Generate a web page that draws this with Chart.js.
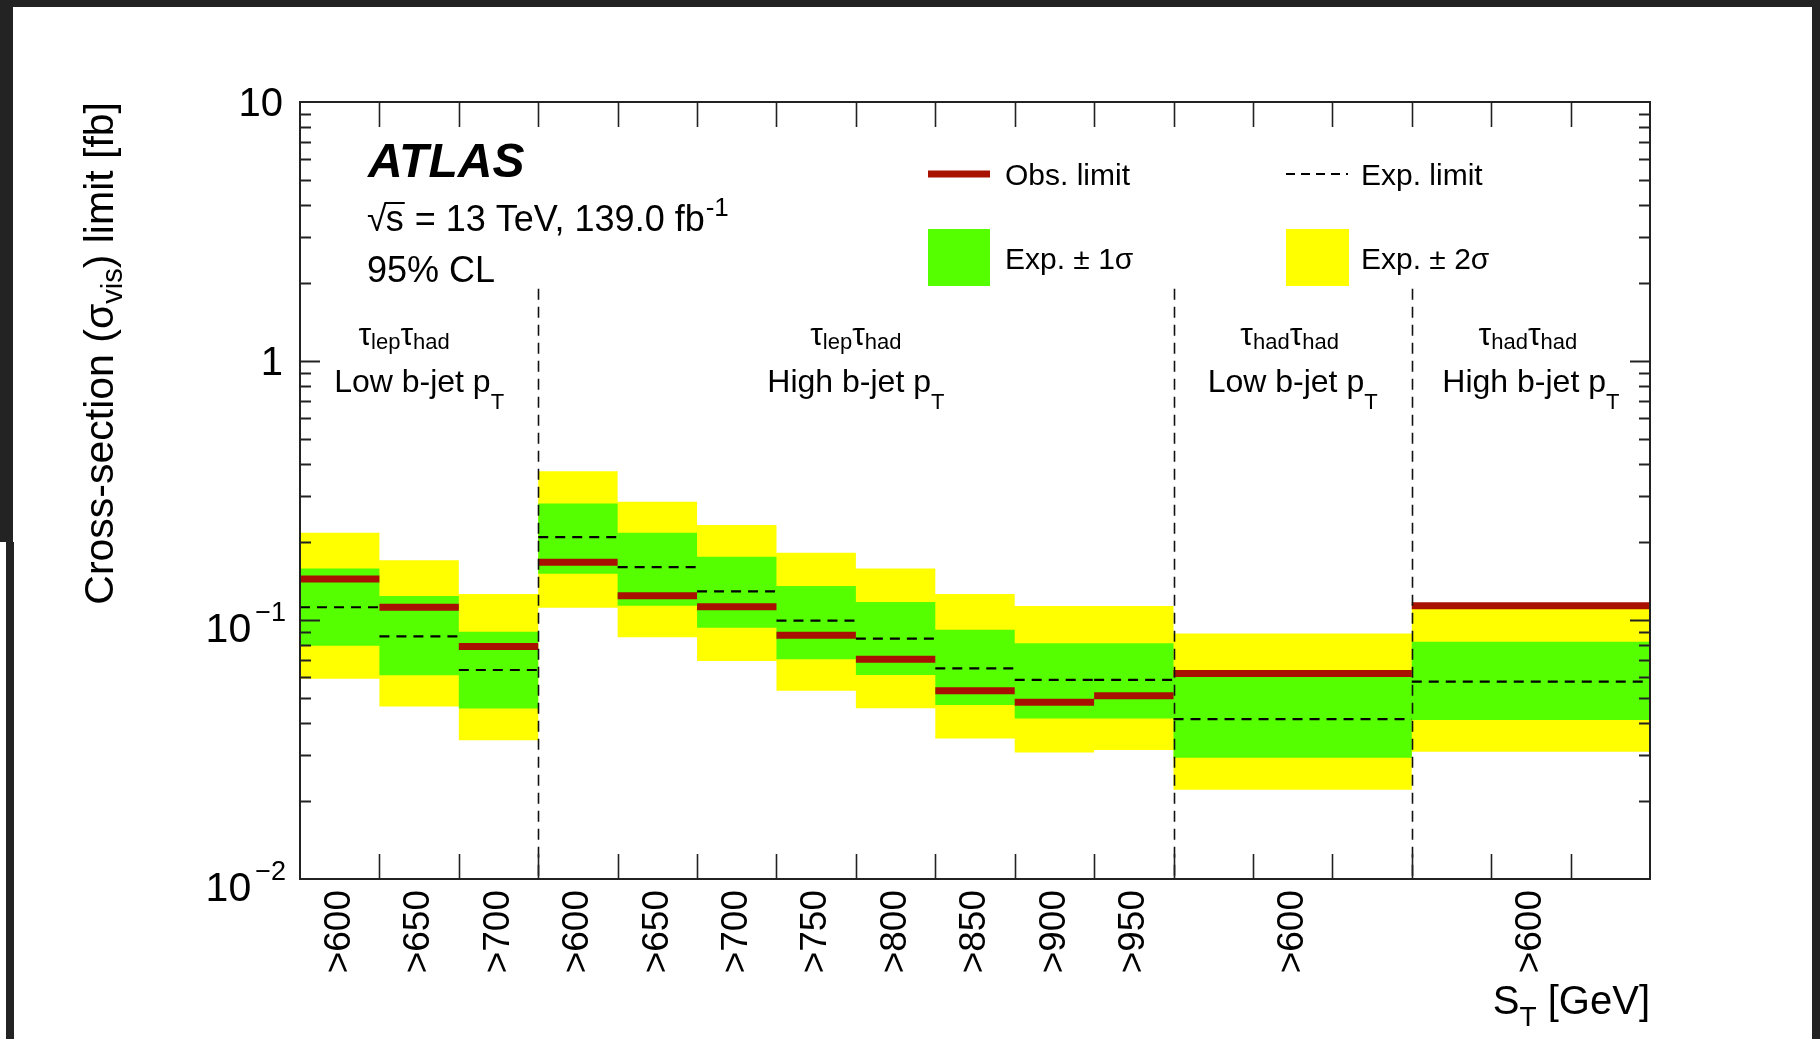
<!DOCTYPE html>
<html>
<head>
<meta charset="utf-8">
<script src="https://cdn.jsdelivr.net/npm/chart.js@4.4.1/dist/chart.umd.min.js"></script>
<style>
html,body{margin:0;padding:0;background:#fff;}
canvas{display:block;}
</style>
</head>
<body>
<canvas id="c" width="1820" height="1039"></canvas>
<script>
// ---------------- data ----------------
const binEdges   = [0,1,2,3,4,5,6,7,8,9,10,11,14,17];
const binLabels  = ['>600','>650','>700','>600','>650','>700','>750','>800','>850','>900','>950','>600','>600'];
const obsLimit   = [0.144,0.112,0.079,0.167,0.124,0.1125,0.0873,0.0705,0.0533,0.0481,0.0510,0.0622,0.1135];
const expLimit   = [0.112,0.0865,0.0641,0.209,0.160,0.129,0.0994,0.0847,0.0651,0.0587,0.0587,0.0414,0.0578];
const exp1sUp    = [0.158,0.1238,0.0901,0.282,0.217,0.1756,0.1353,0.1174,0.0917,0.0813,0.0813,0.0605,0.0824];
const exp1sDn    = [0.0796,0.0612,0.0455,0.151,0.1135,0.0934,0.0705,0.0613,0.0470,0.0417,0.0417,0.0294,0.0411];
const exp2sUp    = [0.217,0.170,0.126,0.375,0.2863,0.2327,0.182,0.158,0.126,0.1132,0.1132,0.0886,0.111];
const exp2sDn    = [0.0593,0.0463,0.0343,0.1115,0.0857,0.0695,0.0533,0.0456,0.0349,0.0308,0.0315,0.0221,0.0310];
const yTickValues = [10,1,0.1,0.01];
const yTickLabels = [['10',''],['1',''],['10','\u22121'],['10','\u22122']];
const dividers   = [3,11,14];
const regionEdges = [[0,3],[3,11],[11,14],[14,17]];
const regionTaus  = [['lep','had'],['lep','had'],['had','had'],['had','had']];
const regionNames = ['Low b-jet p','High b-jet p','Low b-jet p','High b-jet p'];

// ---------------- style ----------------
const FONT = '"Liberation Sans", Arial, Helvetica, sans-serif';
const YELLOW = '#ffff00';
const GREEN  = '#55ff00';
const OBS    = '#a81000';
const AXIS   = '#222222';
const DIVIDER_TOP = 1.9;
const TAU_SHIFT = [-15, 0, -3, -3];

function edgePoints(vals){
  const pts = vals.map((v,i)=>({x:binEdges[i], y:v}));
  pts.push({x:binEdges[binEdges.length-1], y:vals[vals.length-1]});
  return pts;
}
function segPoints(vals){
  const pts = [];
  vals.forEach((v,i)=>{
    pts.push({x:binEdges[i], y:v},{x:binEdges[i+1], y:v});
    if (i < vals.length-1) pts.push({x:binEdges[i+1], y:null});
  });
  return pts;
}
function font(size, style){ return (style||'') + ' ' + size + 'px ' + FONT; }
function drawParts(ctx, parts, x, y, align){
  const ws = parts.map(p=>{ ctx.font = font(p.size, p.style); return ctx.measureText(p.t).width; });
  const total = ws.reduce((a,b)=>a+b,0);
  let cx = align==='center' ? x-total/2 : align==='right' ? x-total : x;
  ctx.textAlign = 'left';
  parts.forEach((p,i)=>{
    ctx.font = font(p.size, p.style);
    ctx.fillText(p.t, cx, y + (p.dy||0));
    cx += ws[i];
  });
  return total;
}

const atlasPlugin = {
  id:'atlas',
  beforeDraw(chart){
    const ctx = chart.ctx;
    ctx.save();
    ctx.fillStyle = '#ffffff';
    ctx.fillRect(0,0,chart.width,chart.height);
    ctx.fillStyle = '#232323';
    ctx.fillRect(0,0,chart.width,7);
    ctx.fillRect(0,0,13,542);
    ctx.fillRect(6,542,8,chart.height-542);
    ctx.fillRect(chart.width-8,0,8,chart.height);
    ctx.restore();
  },
  afterDatasetsDraw(chart){
    const {ctx, chartArea:a, scales:{x,y}} = chart;
    ctx.save();
    ctx.strokeStyle = '#111';
    ctx.lineWidth = 1.6;
    ctx.setLineDash([11,7]);
    dividers.forEach(d=>{
      const px = Math.round(x.getPixelForValue(d))+0.5;
      ctx.beginPath();
      ctx.moveTo(px, y.getPixelForValue(DIVIDER_TOP));
      ctx.lineTo(px, a.bottom);
      ctx.stroke();
    });
    ctx.setLineDash([]);
    ctx.strokeStyle = AXIS;
    ctx.lineWidth = 2;
    ctx.strokeRect(a.left, a.top, a.right-a.left, a.bottom-a.top);
    ctx.lineWidth = 1.6;
    ctx.beginPath();
    for (let v = x.min+1; v < x.max; v++){
      const px = Math.round(x.getPixelForValue(v))+0.5;
      ctx.moveTo(px, a.bottom); ctx.lineTo(px, a.bottom-25);
      ctx.moveTo(px, a.top);    ctx.lineTo(px, a.top+25);
    }
    ctx.stroke();
    ctx.lineWidth = 2;
    ctx.beginPath();
    for (let e = -2; e <= 1; e++){
      for (let m = 1; m <= 9; m++){
        const v = m*Math.pow(10,e);
        if (v > y.max*1.0001 || v < y.min*0.9999) continue;
        if (v === y.min || Math.abs(v-y.max)<1e-9) continue;
        const py = Math.round(y.getPixelForValue(v))+0.5;
        const len = (m===1) ? 20 : 11;
        ctx.moveTo(a.left, py); ctx.lineTo(a.left+len, py);
        ctx.moveTo(a.right, py); ctx.lineTo(a.right-len, py);
      }
    }
    ctx.stroke();
    ctx.restore();
  },
  afterDraw(chart){
    const {ctx, chartArea:a, scales:{x,y}} = chart;
    ctx.save();
    ctx.fillStyle = '#000';
    ctx.textBaseline = 'alphabetic';

    yTickValues.forEach((v,i)=>{
      const py = y.getPixelForValue(v);
      const [base, ex] = yTickLabels[i];
      if (!ex){
        drawParts(ctx, [{t:base, size:40}], 283, py+14, 'right');
      } else {
        ctx.font = font(27);
        const ew = ctx.measureText(ex).width;
        drawParts(ctx, [{t:base, size:41}], 283-ew-1, py+22, 'right');
        drawParts(ctx, [{t:ex, size:27}], 286, py+1, 'right');
      }
    });

    ctx.save();
    ctx.translate(113, a.top);
    ctx.rotate(-Math.PI/2);
    drawParts(ctx, [
      {t:'Cross-section (\u03c3', size:41},
      {t:'vis', size:29, dy:9},
      {t:') limit [fb]', size:41}
    ], 0, 0, 'right');
    ctx.restore();

    drawParts(ctx, [
      {t:'S', size:40},
      {t:'T', size:28, dy:12},
      {t:' [GeV]', size:40}
    ], a.right, 1014, 'right');

    ctx.font = font(48,'italic bold');
    ctx.textAlign = 'left';
    ctx.fillText('ATLAS', 368, 177);

    const sx = 367, sb = 231;
    ctx.font = font(36);
    const rw = ctx.measureText('\u221a').width;
    ctx.fillText('\u221a', sx, sb);
    const sw = ctx.measureText('s').width;
    ctx.fillText('s', sx+rw-1, sb);
    ctx.strokeStyle = '#000'; ctx.lineWidth = 2;
    ctx.beginPath(); ctx.moveTo(sx+rw-2, sb-28); ctx.lineTo(sx+rw+sw, sb-28); ctx.stroke();
    const w2 = drawParts(ctx, [{t:' = 13 TeV, 139.0 fb', size:36}], sx+rw+sw, sb, 'left');
    drawParts(ctx, [{t:'-1', size:26}], sx+rw+sw+w2+1, sb-15, 'left');

    drawParts(ctx, [{t:'95% CL', size:36}], 367, 282, 'left');

    ctx.strokeStyle = OBS; ctx.lineWidth = 7;
    ctx.beginPath(); ctx.moveTo(928,174); ctx.lineTo(990,174); ctx.stroke();
    drawParts(ctx, [{t:'Obs. limit', size:30}], 1005, 185, 'left');
    ctx.strokeStyle = '#000'; ctx.lineWidth = 2; ctx.setLineDash([9,6]);
    ctx.beginPath(); ctx.moveTo(1286,174); ctx.lineTo(1348,174); ctx.stroke();
    ctx.setLineDash([]);
    drawParts(ctx, [{t:'Exp. limit', size:30}], 1361, 185, 'left');
    ctx.fillStyle = GREEN; ctx.fillRect(928,229,62,57);
    ctx.fillStyle = YELLOW; ctx.fillRect(1286,229,63,57);
    ctx.fillStyle = '#000';
    drawParts(ctx, [{t:'Exp. \u00b1 1\u03c3', size:30}], 1005, 269, 'left');
    drawParts(ctx, [{t:'Exp. \u00b1 2\u03c3', size:30}], 1361, 269, 'left');

    regionEdges.forEach((r,i)=>{
      const cx = (x.getPixelForValue(r[0]) + x.getPixelForValue(r[1]))/2;
      drawParts(ctx, [
        {t:'\u03c4', size:32},
        {t:regionTaus[i][0], size:22, dy:4},
        {t:'\u03c4', size:32},
        {t:regionTaus[i][1], size:22, dy:4}
      ], cx + TAU_SHIFT[i], 345, 'center');
      drawParts(ctx, [
        {t:regionNames[i], size:32},
        {t:'T', size:22, dy:17}
      ], cx, 392, 'center');
    });
    ctx.restore();
  }
};

Chart.defaults.font.family = FONT;
Chart.defaults.color = '#000';

new Chart(document.getElementById('c'), {
  type:'line',
  data:{
    datasets:[
      {label:'Exp. \u00b1 2\u03c3 up', data:edgePoints(exp2sUp), stepped:'before', borderWidth:0, borderColor:'rgba(0,0,0,0)', pointRadius:0, fill:false, order:5},
      {label:'Exp. \u00b1 2\u03c3', data:edgePoints(exp2sDn), stepped:'before', borderWidth:0, borderColor:'rgba(0,0,0,0)', pointRadius:0, fill:'-1', backgroundColor:YELLOW, order:4},
      {label:'Exp. \u00b1 1\u03c3 up', data:edgePoints(exp1sUp), stepped:'before', borderWidth:0, borderColor:'rgba(0,0,0,0)', pointRadius:0, fill:false, order:3},
      {label:'Exp. \u00b1 1\u03c3', data:edgePoints(exp1sDn), stepped:'before', borderWidth:0, borderColor:'rgba(0,0,0,0)', pointRadius:0, fill:'-1', backgroundColor:GREEN, order:2},
      {label:'Exp. limit', data:segPoints(expLimit), borderColor:'#000', borderWidth:2.2, borderDash:[10,7], pointRadius:0, fill:false, order:1},
      {label:'Obs. limit', data:segPoints(obsLimit), borderColor:OBS, borderWidth:7, pointRadius:0, fill:false, order:0}
    ]
  },
  options:{
    responsive:false,
    animation:false,
    devicePixelRatio:1,
    layout:{padding:{left:300, right:170, top:102, bottom:0}},
    plugins:{legend:{display:false}, tooltip:{enabled:false}},
    elements:{line:{tension:0, borderCapStyle:'butt'}},
    scales:{
      x:{
        type:'linear', min:0, max:17,
        grid:{display:false, drawTicks:false},
        border:{display:false},
        afterBuildTicks:(s)=>{
          s.ticks = binLabels.map((_,i)=>({value:(binEdges[i]+binEdges[i+1])/2}));
        },
        afterFit:(s)=>{ s.height = 160; },
        ticks:{
          autoSkip:false, minRotation:90, maxRotation:90, padding:11,
          font:{size:37, family:FONT}, color:'#000',
          callback:(v,i)=>binLabels[i]
        }
      },
      y:{
        type:'logarithmic', min:0.01, max:10, display:false
      }
    }
  },
  plugins:[atlasPlugin]
});
</script>
</body>
</html>
